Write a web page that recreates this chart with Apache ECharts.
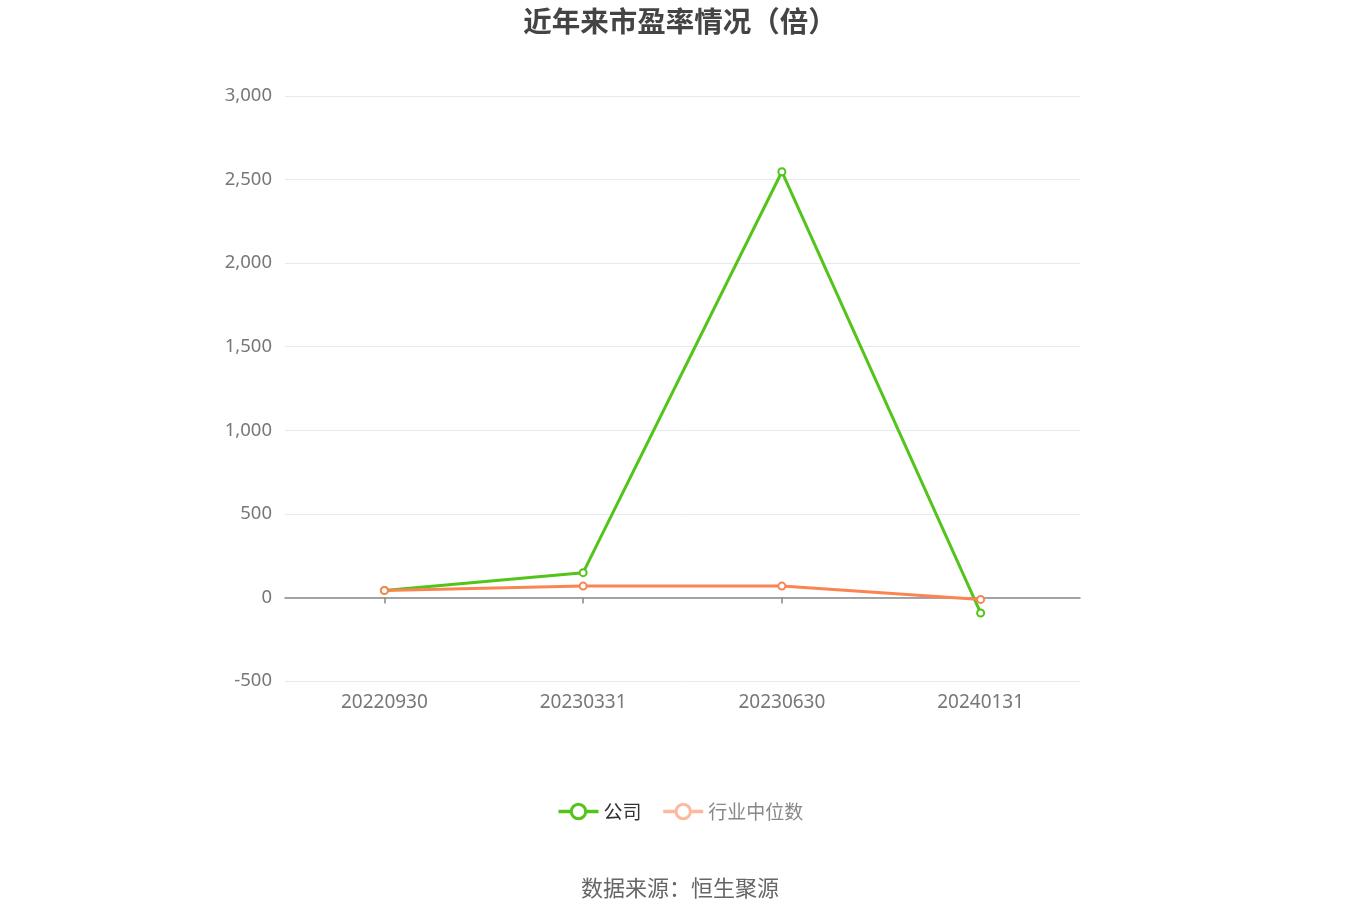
<!DOCTYPE html>
<html><head><meta charset="utf-8">
<script src="https://cdn.jsdelivr.net/npm/echarts@6/dist/echarts.min.js"></script>
<style>html,body{margin:0;padding:0;background:#fff}#c{width:1360px;height:920px}</style>
</head><body><div id="c"></div>
<script>
const categories = ['20220930','20230331','20230630','20240131'];
const companyPE = [42, 148, 2547, -93];
const industryPE = [42, 68, 68, -12];
const titleText = '近年来市盈率情况（倍）';
const sourceText = '数据来源：恒生聚源';

const chart = echarts.init(document.getElementById('c'));
chart.setOption({
  backgroundColor: '#fff',
  title: [{
    text: titleText, left: 'center', top: 2,
    textStyle: {fontSize: 28.5, fontWeight: 'bold', color: '#444', fontFamily: 'Noto Sans CJK SC'}
  }, {
    text: sourceText, left: 'center', top: 872,
    textStyle: {fontSize: 22, fontWeight: 'normal', color: '#666', fontFamily: 'Noto Sans CJK SC'}
  }],
  legend: {
    top: 797, left: 'center', itemWidth: 40, itemHeight: 18, itemGap: 20,
    textStyle: {fontSize: 19, fontFamily: 'Noto Sans CJK SC'},
    itemStyle: {borderWidth: 3},
    lineStyle: {width: 3.5},
    data: [
      {name: '公司', textStyle: {color: '#333'}},
      {name: '行业中位数', textStyle: {color: '#888'},
        itemStyle: {color: '#fff', borderColor: '#fdb9a0', borderWidth: 3},
        lineStyle: {color: '#fdb9a0', width: 3.5}}
    ]
  },
  grid: {left: 285, right: 280, top: 96, bottom: 239},
  xAxis: {
    type: 'category', data: categories, boundaryGap: true,
    axisLine: {onZero: true, lineStyle: {color: '#888', width: 1.5}},
    axisTick: {show: true, alignWithLabel: true, length: 6, lineStyle: {color: '#888', width: 1.5}},
    axisLabel: {fontSize: 19, color: '#777', margin: 12, fontFamily: 'Noto Sans'}
  },
  yAxis: {
    type: 'value', min: -500, max: 3000, interval: 500,
    axisLine: {show: false}, axisTick: {show: false},
    splitLine: {lineStyle: {color: '#e6e9f2'}},
    axisLabel: {fontSize: 18.5, color: '#777', margin: 13, fontFamily: 'Noto Sans',
      formatter: v => v.toLocaleString('en-US')}
  },
  series: [{
    name: '公司', type: 'line', data: companyPE,
    symbol: 'circle', symbolSize: 7,
    lineStyle: {color: '#52c41a', width: 3},
    itemStyle: {color: '#fff', borderColor: '#52c41a', borderWidth: 2}
  }, {
    name: '行业中位数', type: 'line', data: industryPE,
    symbol: 'circle', symbolSize: 7,
    lineStyle: {color: '#fa8452', width: 3},
    itemStyle: {color: '#fff', borderColor: '#fa8452', borderWidth: 2}
  }]
});
</script></body></html>
